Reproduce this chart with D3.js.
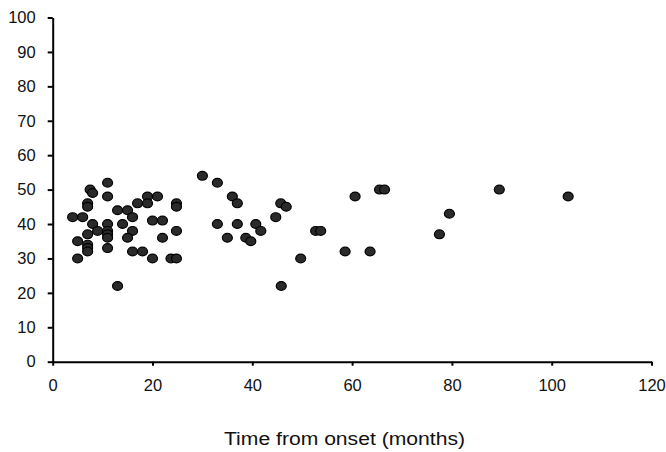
<!DOCTYPE html>
<html>
<head>
<meta charset="UTF-8">
<style>
body { margin: 0; background: #fff; }
svg { display: block; }
.axis text { font-family: "Liberation Sans", Arial, sans-serif; font-size: 16.5px; fill: #111; }
.axis path, .axis line { stroke: #000; stroke-width: 2; }
</style>
</head>
<body>
<svg></svg>
<script src="https://d3js.org/d3.v7.min.js"></script>
<script>
// months since onset vs value
const months = [7.5, 8, 11, 11, 7, 7, 4, 6, 8, 9, 11, 11, 11, 11, 7, 5, 7, 7, 7, 5,
  11, 13, 13, 15, 16, 14, 16, 15, 17, 19, 19, 21, 16, 18, 20, 22, 22, 20, 23.7, 24.8,
  24.8, 24.8, 24.8, 30, 33, 36, 37, 33, 37, 35, 38.7, 39.7, 40.7, 41.7, 44.7, 45.7, 46.8,
  52.7, 53.7, 58.6, 49.7, 45.8, 60.6, 65.5, 66.5, 63.6, 79.5, 77.5, 89.5, 103.3];
const values = [50, 49, 52, 48, 46, 45, 42, 42, 40, 38, 40, 38, 37, 36, 37, 35, 34, 33, 32, 30,
  33, 22, 44, 44, 42, 40, 38, 36, 46, 48, 46, 48, 32, 32, 41, 41, 36, 30, 30, 30,
  46, 45, 38, 54, 52, 48, 46, 40, 40, 36, 36, 35, 40, 38, 42, 46, 45,
  38, 38, 32, 30, 22, 48, 50, 50, 32, 43, 37, 50, 48];
const xTicks = [0, 20, 40, 60, 80, 100, 120];
const yTicks = [0, 10, 20, 30, 40, 50, 60, 70, 80, 90, 100];
const xTitle = "Time from onset (months)";

const width = 666, height = 452;
const svg = d3.select("svg").attr("width", width).attr("height", height);

const x = d3.scaleLinear().domain([0, 120]).range([52.7, 651.5]);
const y = d3.scaleLinear().domain([0, 100]).range([361.7, 17.5]);

svg.append("g")
  .attr("class", "axis")
  .attr("transform", "translate(0," + y(0) + ")")
  .call(d3.axisBottom(x).tickValues(xTicks).tickSize(4).tickSizeOuter(0).tickPadding(14));

svg.append("g")
  .attr("class", "axis")
  .attr("transform", "translate(" + x(0) + ",0)")
  .call(d3.axisLeft(y).tickValues(yTicks).tickSize(5).tickSizeOuter(0).tickPadding(12));

svg.selectAll(".axis .domain").attr("stroke-width", 2.2);

svg.append("text")
  .attr("x", 344.5)
  .attr("y", 445)
  .attr("text-anchor", "middle")
  .attr("textLength", 241)
  .attr("lengthAdjust", "spacingAndGlyphs")
  .style("font-family", "Liberation Sans, Arial, sans-serif")
  .style("font-size", "18px")
  .style("fill", "#111")
  .text(xTitle);

const pts = months.map((m, i) => ({ m: m, v: values[i] }));

svg.append("g")
  .selectAll("ellipse")
  .data(pts)
  .enter()
  .append("ellipse")
    .attr("cx", d => x(d.m))
    .attr("cy", d => y(d.v))
    .attr("rx", 5)
    .attr("ry", 4.4)
    .attr("fill", "#2a2a2a")
    .attr("stroke", "#000")
    .attr("stroke-width", 1.2);
</script>
</body>
</html>
